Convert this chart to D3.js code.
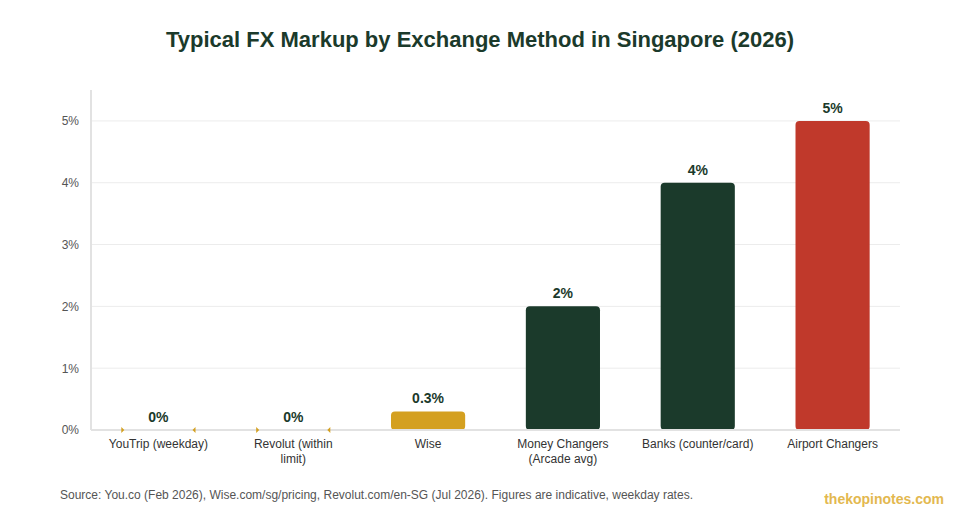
<!DOCTYPE html>
<html>
<head>
<meta charset="utf-8">
<script src="https://cdn.jsdelivr.net/npm/d3@7"></script>
<style>
  body { margin: 0; background: #fff; }
  svg { display: block; font-family: "Liberation Sans", Arial, Helvetica, sans-serif; }
</style>
</head>
<body>
<div id="chart"></div>
<script>
const categories = [
    ["YouTrip (weekday)"],
    ["Revolut (within", "limit)"],
    ["Wise"],
    ["Money Changers", "(Arcade avg)"],
    ["Banks (counter/card)"],
    ["Airport Changers"]
];
const markups = [0, 0, 0.3, 2, 4, 5];
const valueLabels = ["0%", "0%", "0.3%", "2%", "4%", "5%"];
const barColors = ["#D4A020", "#D4A020", "#D4A020", "#1B3A2B", "#1B3A2B", "#C0392B"];
const yTicks = [0, 1, 2, 3, 4, 5];

const width = 960, height = 520;
const margin = {top: 90, right: 60, bottom: 90, left: 91};
const innerW = width - margin.left - margin.right;
const innerH = height - margin.top - margin.bottom;

const svg = d3.select("#chart").append("svg")
    .attr("width", width)
    .attr("height", height);

// title
svg.append("text")
    .attr("x", width / 2)
    .attr("y", 47)
    .attr("text-anchor", "middle")
    .attr("font-size", 22)
    .attr("font-weight", "bold")
    .attr("fill", "#1B3A2B")
    .attr("textLength", 628)
    .attr("lengthAdjust", "spacingAndGlyphs")
    .text("Typical FX Markup by Exchange Method in Singapore (2026)");

const g = svg.append("g")
    .attr("transform", `translate(${margin.left},${margin.top})`);

const x = d3.scaleBand()
    .domain(d3.range(categories.length))
    .range([0, innerW])
    .paddingInner(0.45)
    .paddingOuter(0.225);

const y = d3.scaleLinear()
    .domain([0, 5.5])
    .range([innerH, 0]);

// grid
g.selectAll(".grid")
    .data(yTicks.filter(d => d > 0))
    .enter().append("line")
    .attr("class", "grid")
    .attr("x1", 0).attr("x2", innerW)
    .attr("y1", d => y(d)).attr("y2", d => y(d))
    .attr("stroke", "#ececec")
    .attr("stroke-width", 1);

// y axis
const yAxis = g.append("g")
    .call(d3.axisLeft(y).tickValues(yTicks).tickFormat(d => d + "%").tickSize(0).tickPadding(12));
yAxis.select(".domain").remove();
yAxis.selectAll("text")
    .attr("font-size", 12)
    .attr("fill", "#555")
    .attr("font-family", "Liberation Sans, Arial, sans-serif");

g.append("line")
    .attr("x1", 0).attr("x2", 0)
    .attr("y1", 0).attr("y2", innerH)
    .attr("stroke", "#e2e2e2")
    .attr("stroke-width", 2);

// bars
const r = 4;
g.selectAll(".bar")
    .data(markups)
    .enter().append("rect")
    .attr("class", "bar")
    .attr("x", (d, i) => x(i))
    .attr("y", d => y(d))
    .attr("width", x.bandwidth())
    .attr("height", d => innerH - y(d))
    .attr("rx", d => Math.min(r, (innerH - y(d)) / 2))
    .attr("fill", (d, i) => barColors[i]);

// bottom axis line
g.append("line")
    .attr("x1", 0).attr("x2", innerW)
    .attr("y1", innerH).attr("y2", innerH)
    .attr("stroke", "#e2e2e2")
    .attr("stroke-width", 2);

// tiny edge marks for zero-height bars
markups.forEach((d, i) => {
    if (d === 0) {
        [[x(i), 1], [x(i) + x.bandwidth(), -1]].forEach(([px, dir]) => {
            g.append("path")
                .attr("d", `M${px},${innerH - 3} L${px + dir * 3},${innerH} L${px},${innerH + 3} Z`)
                .attr("fill", barColors[i]);
        });
    }
});

// value labels
g.selectAll(".val")
    .data(markups)
    .enter().append("text")
    .attr("class", "val")
    .attr("x", (d, i) => x(i) + x.bandwidth() / 2)
    .attr("y", d => y(d) - 8)
    .attr("text-anchor", "middle")
    .attr("font-size", 14)
    .attr("font-weight", "bold")
    .attr("fill", "#1B3A2B")
    .text((d, i) => valueLabels[i]);

// category labels
const cat = g.selectAll(".cat")
    .data(categories)
    .enter().append("text")
    .attr("class", "cat")
    .attr("x", (d, i) => x(i) + x.bandwidth() / 2)
    .attr("y", innerH + 18)
    .attr("text-anchor", "middle")
    .attr("font-size", 12)
    .attr("fill", "#333");
cat.selectAll("tspan")
    .data(d => d)
    .enter().append("tspan")
    .attr("x", function() { return this.parentNode.getAttribute("x"); })
    .attr("dy", (d, i) => i === 0 ? 0 : 15)
    .text(d => d);

// footer
svg.append("text")
    .attr("x", 60)
    .attr("y", 499)
    .attr("font-size", 12)
    .attr("fill", "#555")
    .text("Source: You.co (Feb 2026), Wise.com/sg/pricing, Revolut.com/en-SG (Jul 2026). Figures are indicative, weekday rates.");

svg.append("text")
    .attr("x", 944)
    .attr("y", 504)
    .attr("text-anchor", "end")
    .attr("font-size", 14)
    .attr("font-weight", "bold")
    .attr("fill", "#E3B84F")
    .text("thekopinotes.com");
</script>
</body>
</html>
